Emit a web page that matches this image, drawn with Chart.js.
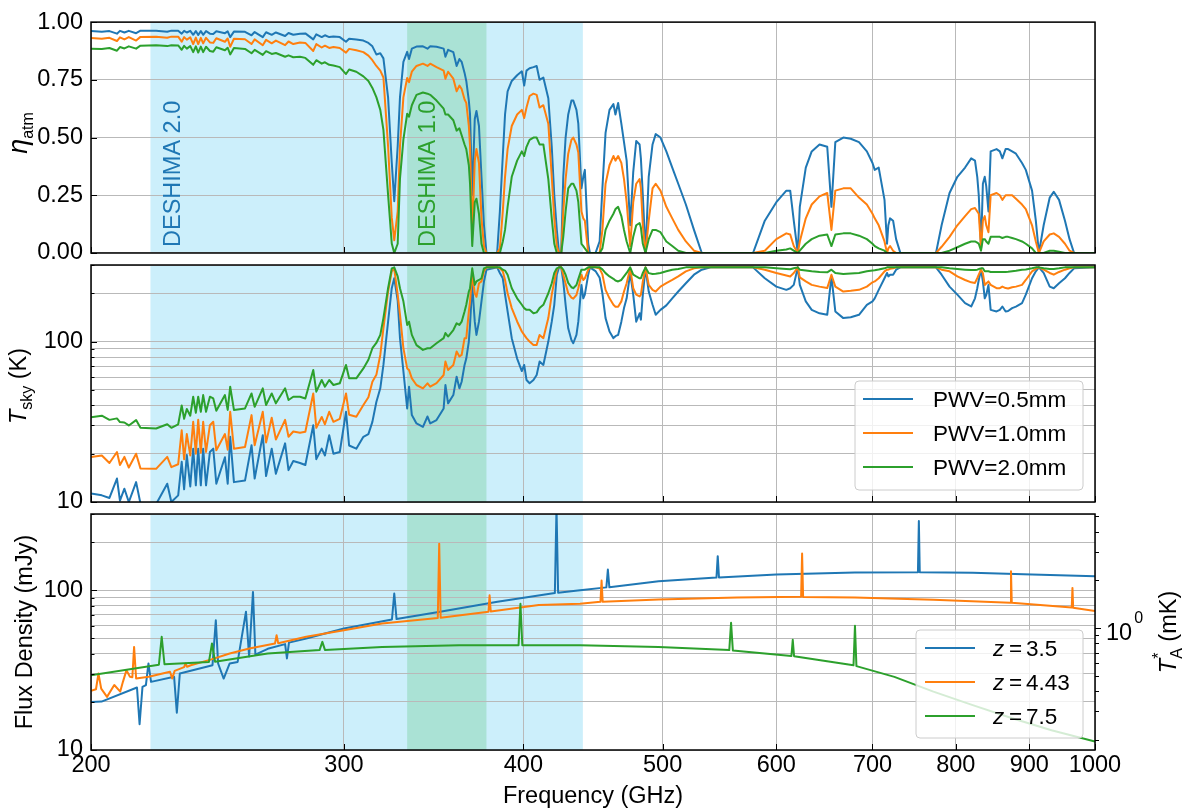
<!DOCTYPE html>
<html>
<head>
<meta charset="utf-8">
<title>DESHIMA atmosphere and line fluxes</title>
<script src="https://cdn.jsdelivr.net/npm/chart.js@4.4.1/dist/chart.umd.min.js"></script>
<style>
  html, body { margin: 0; padding: 0; background: #fff; }
  #wrap { position: relative; width: 1196px; height: 808px; }
  #wrap canvas { position: absolute; left: 0; top: 0; }
</style>
</head>
<body>
<div id="wrap">
  <canvas id="etaChart" width="1196" height="808"></canvas>
  <canvas id="tskyChart" width="1196" height="808"></canvas>
  <canvas id="fluxChart" width="1196" height="808"></canvas>
</div>
<script>
// ---- axis ticks and bands ----
const freqTicks = [200, 300, 400, 500, 600, 700, 800, 900, 1000];
const etaTicks = [0, 0.25, 0.5, 0.75, 1];
const logTicks = [10, 20, 30, 40, 50, 60, 70, 80, 90, 100, 200, 300];
const taTicks = [0.2, 0.3, 0.4, 0.5, 0.6, 0.7, 0.8, 0.9, 1, 2, 3, 4, 5];
const deshima2Band = [220, 440];
const deshima1Band = [332, 377];
const mJyPerMK = 58.1;

const pwvLabels = ['PWV=0.5mm', 'PWV=1.0mm', 'PWV=2.0mm'];
const redshiftLabels = ['3.5', '4.43', '7.5'];

// ---- atmosphere: frequency grid (GHz) shared by the top two panels ----
const atmFreq = [
  200, 203.5, 206, 208.5, 209.5, 211, 212.5, 215, 216.5, 222,
  226, 227.5, 230, 231.3, 232.2, 233.2, 234.5, 235.6, 236.6, 237.5,
  238.5, 239.4, 240.5, 242, 243.3, 244.5, 247.9, 249, 250, 251.5,
  256, 258.7, 260, 263.4, 264.8, 267.2, 269, 273, 274.5, 276.6,
  279.6, 282, 285.6, 287, 289.5, 291, 293, 295, 298, 301,
  302.5, 306, 309.5, 312, 314, 316, 318, 319.6, 322, 323.9,
  325.2, 327, 328.2, 330, 332, 333, 334.5, 337, 340.5, 343,
  344.5, 348, 352, 353, 354.5, 357.5, 359.4, 361, 362.3, 364,
  365, 366.5, 367.2, 368.5, 370, 371, 372.5, 374, 375.5, 377,
  383.5, 385.2, 387, 388.4, 390, 392.6, 396, 399, 400.5, 402,
  404, 406.5, 408.6, 410.5, 413, 416.3, 418.6, 420.3, 422, 423.5,
  425, 426.4, 428, 429.8, 432, 433.3, 435.5, 436.8, 439, 440.3,
  441.4, 443.8, 445, 449, 452, 454, 456.3, 459.2, 462.1, 463.6,
  465.6, 468, 470, 472, 474.7, 477, 479.3, 481.9, 482.9, 484.4,
  486.5, 489, 492, 494.5, 498.3, 503, 507.8, 512.7, 519, 525.8,
  532.4, 540, 578, 589, 600, 609.7, 613.5, 617, 621, 623,
  629, 635, 643, 651, 655.4, 659.5, 668, 676, 685, 693.7,
  700, 702.5, 707, 713.6, 716.5, 718, 720, 723.5, 727, 732,
  775, 782, 792, 802, 812, 820, 825, 828, 830, 833,
  835.5, 838, 840, 843, 846, 854, 858.5, 862, 866.5, 870,
  875.6, 881, 889.6, 895, 904, 909.5, 914, 921, 930, 936,
  944, 953, 960, 967, 1000
];

// atmospheric transmission
const etaPwv05 = [
  .962, .958, .961, .950, .962, .955, .962, .952, .963, .963,
  .958, .963, .963, .950, .962, .955, .962, .945, .961, .944,
  .961, .945, .961, .950, .948, .960, .952, .960, .935, .959,
  .958, .943, .957, .935, .956, .945, .955, .940, .953, .945,
  .950, .951, .925, .947, .935, .943, .935, .938, .935, .915,
  .928, .925, .920, .910, .895, .860, .865, .843, .674, .392,
  .224, .463, .674, .828, .871, .840, .885, .894, .895, .885,
  .895, .893, .885, .850, .880, .870, .810, .840, .828, .780,
  .745, .660, .600, .250, .580, .615, .550, .330, .120, 0,
  0, .180, .420, .600, .700, .745, .770, .787, .725, .790,
  .800, .805, .810, .750, .760, .670, .460, .250, .100, 0,
  0, .330, .500, .600, .660, .660, .620, .560, .280, .330,
  .360, .040, 0, 0, .050, .280, .520, .620, .645, .600,
  .650, .560, .480, .400, .120, .350, .485, .470, .410, .250,
  0, .330, .470, .515, .500, .440, .370, .300, .210, .100,
  0, 0, 0, .140, .220, .270, .270, .140, 0, .200,
  .370, .440, .470, .460, .200, .480, .500, .495, .480, .440,
  .390, .360, .370, .230, .040, .120, .150, .140, .060, 0,
  0, .120, .260, .330, .370, .410, .400, .330, .250, .020,
  .300, .330, .290, .180, .440, .450, .440, .410, .450, .450,
  .440, .430, .390, .360, .270, .140, 0, .120, .240, .265,
  .230, .140, .060, 0, 0
];
const etaPwv10 = [
  .931, .928, .932, .918, .934, .925, .935, .920, .936, .937,
  .932, .937, .937, .915, .935, .924, .934, .905, .933, .905,
  .932, .908, .932, .912, .910, .930, .915, .929, .893, .928,
  .926, .905, .925, .900, .923, .908, .920, .900, .916, .905,
  .912, .910, .875, .905, .890, .898, .888, .892, .888, .868,
  .884, .878, .870, .855, .835, .810, .790, .760, .463, .153,
  .055, .180, .463, .674, .758, .740, .785, .810, .820, .810,
  .820, .805, .790, .755, .785, .755, .700, .725, .710, .665,
  .650, .550, .463, .080, .400, .450, .390, .150, .030, 0,
  0, .020, .180, .330, .450, .550, .600, .620, .585, .630,
  .680, .690, .685, .630, .640, .560, .330, .150, .030, 0,
  0, .180, .320, .430, .490, .500, .470, .435, .180, .150,
  .140, 0, 0, 0, 0, .100, .300, .380, .420, .400,
  .420, .390, .320, .220, .030, .220, .300, .320, .280, .120,
  0, .140, .280, .300, .270, .200, .150, .100, .050, .010,
  0, 0, 0, .010, .060, .085, .080, .030, 0, .050,
  .150, .210, .245, .260, .100, .270, .280, .280, .240, .210,
  .170, .150, .120, .050, 0, .020, .030, .010, 0, 0,
  0, .027, .070, .120, .160, .190, .195, .180, .170, .020,
  .140, .160, .120, .090, .250, .260, .250, .230, .250, .250,
  .250, .235, .210, .190, .120, .050, 0, .050, .080, .085,
  .070, .040, .010, 0, 0
];
const etaPwv20 = [
  .885, .884, .888, .876, .892, .886, .895, .885, .898, .900,
  .896, .900, .899, .880, .897, .885, .896, .870, .895, .868,
  .894, .870, .893, .875, .872, .891, .878, .889, .860, .888,
  .884, .865, .880, .858, .874, .862, .866, .850, .856, .848,
  .850, .845, .815, .835, .820, .826, .815, .812, .805, .775,
  .795, .785, .765, .745, .715, .675, .620, .533, .252, .041,
  0, .040, .322, .491, .603, .590, .640, .685, .695, .690,
  .685, .660, .625, .600, .600, .575, .530, .540, .510, .470,
  .450, .380, .300, .030, .220, .235, .170, .040, 0, 0,
  0, 0, .050, .100, .200, .330, .400, .440, .420, .460,
  .490, .500, .500, .470, .470, .320, .150, .040, 0, 0,
  0, .070, .180, .280, .300, .300, .270, .220, .040, .030,
  .020, 0, 0, 0, 0, .020, .100, .140, .170, .190,
  .200, .160, .100, .050, 0, .070, .120, .130, .110, .040,
  0, .060, .100, .100, .090, .050, .030, .010, 0, 0,
  0, 0, 0, 0, .010, .015, .020, .010, 0, .010,
  .040, .060, .075, .080, .030, .080, .085, .085, .075, .060,
  .040, .030, .020, .010, 0, 0, 0, 0, 0, 0,
  0, 0, .010, .025, .040, .050, .050, .045, .040, .010,
  .060, .060, .050, .040, .070, .070, .070, .065, .070, .070,
  .065, .060, .050, .040, .020, 0, 0, 0, .010, .010,
  .005, 0, 0, 0, 0
];

// sky temperature (K)
const tskyPwv05 = [
  11.3, 11.0, 10.6, 14.0, 10.2, 12.1, 10.0, 13.3, 9.8, 9.7,
  13.0, 10.0, 11.0, 17.8, 12.0, 19.6, 12.5, 21.5, 12.7, 21.5,
  12.7, 21.5, 12.7, 20.5, 21.5, 13.0, 19.0, 13.0, 25.5, 13.3,
  13.6, 22.6, 14.0, 26.1, 14.5, 21.5, 15.0, 23.2, 15.8, 18.0,
  17.5, 17.0, 30.1, 18.5, 21.5, 19.5, 26.1, 20.0, 20.5, 36.5,
  22.5, 21.5, 25.5, 26.5, 31.6, 42.0, 51.1, 71.5, 133, 215,
  248, 180, 105, 65.5, 38.3, 52.3, 34.8, 30.9, 29.4, 34.1,
  30.9, 32.4, 38.3, 53.6, 41.2, 46.4, 60.4, 51.1, 56.2, 71.5,
  78.3, 100, 127, 226, 133, 110, 133, 178, 237, 280.5,
  290, 267.6, 248, 196, 154, 105, 78.3, 65.5, 71.5, 57.6,
  55.0, 57.6, 61.9, 75.0, 71.5, 100, 133, 169.5, 261, 290,
  290, 237, 169.5, 121, 102.4, 97.6, 110, 133, 225.5, 186,
  196, 261, 290, 275, 250, 200, 140, 115.5, 105, 108,
  110, 133, 161.6, 186, 267.6, 196, 133, 150, 136.7, 196,
  287, 205, 169.5, 146.8, 157.6, 168, 186, 205, 231, 261,
  280.5, 290, 290, 248, 220, 210, 215, 225.5, 290, 225.5,
  178, 157.6, 150, 146.8, 254.6, 154, 140, 141.6, 146.8, 169.5,
  178, 186, 210, 248, 267.6, 254.6, 261, 261, 280.5, 290,
  290, 261, 220, 196, 173.6, 165.4, 186, 215, 242, 280.5,
  237, 186, 195, 225, 157.6, 154, 157.6, 165.4, 154, 155,
  161.6, 165, 173.6, 196, 248, 274, 290, 267.6, 220, 215,
  231, 248, 267.6, 286, 290
];
const tskyPwv10 = [
  19.1, 19.5, 17.5, 20.5, 17.0, 19.1, 16.4, 20.0, 16.2, 16.1,
  19.1, 16.5, 17.2, 28.0, 18.5, 26.5, 19.5, 31.6, 20.0, 32.5,
  20.3, 31.6, 20.5, 30.1, 31.6, 21.0, 26.5, 21.2, 36.5, 21.5,
  22.0, 34.8, 22.6, 36.5, 23.5, 33.5, 24.5, 32.5, 25.5, 27.5,
  27.0, 27.4, 47.5, 29.0, 33.9, 30.5, 36.5, 31.6, 33.0, 47.5,
  35.0, 34.0, 40.2, 45.0, 56.2, 62.0, 82.5, 121, 205, 274,
  284, 196, 147, 91, 68, 66.5, 59, 53.6, 51.1, 54.9,
  52.3, 55.0, 61.9, 75.0, 66.5, 71.5, 86.6, 80.8, 82.5, 105,
  105, 154, 178, 261, 200, 190, 231, 237, 274, 290,
  290, 286, 274, 242, 200, 161.6, 133.4, 115.5, 110, 105,
  100, 95.3, 95.3, 110, 105, 140, 196, 237, 280.5, 290,
  290, 261, 230, 200, 188, 185, 195, 215, 261, 242,
  248, 280.5, 290, 290, 285, 262, 210, 186, 169.5, 165,
  165, 178, 205, 231, 286, 215, 196, 191, 196, 237,
  290, 225.5, 210, 205, 220, 231, 242, 254.6, 274, 286,
  290, 290, 290, 280.5, 267.6, 258, 254.6, 267.6, 290, 251,
  237, 225.5, 220, 215.4, 261, 220, 205, 207, 210, 220,
  234, 237, 248, 274, 280.5, 280.5, 284, 286, 290, 290,
  290, 280.5, 274, 254.6, 242, 234, 232, 248, 261, 280.5,
  267, 225.5, 230, 237, 225.5, 215, 215, 220, 215.4, 214,
  218, 220, 225.5, 242, 274, 284, 290, 280.5, 267.6, 261,
  271.5, 280.5, 286, 290, 290
];
const tskyPwv20 = [
  33.7, 34.5, 32.5, 33.2, 31.5, 31.3, 30.0, 32.4, 29.0, 28.7,
  30.5, 29.0, 30.5, 40.0, 33.0, 38.0, 34.5, 45.3, 36.0, 45.3,
  36.5, 46.4, 36.5, 45.3, 44.2, 37.0, 46.4, 37.5, 52.3, 37.5,
  38.3, 47.5, 39.2, 51.1, 40.2, 47.5, 41.2, 51.1, 43.2, 45.3,
  45.3, 44.2, 66.5, 48.7, 57.6, 52.3, 57.6, 53.6, 54.9, 71.5,
  59.0, 59.0, 68.0, 77.0, 90.9, 98.0, 110, 140, 215, 286,
  290, 255, 215, 178, 127, 133, 110, 95, 88.7, 90.9,
  90.9, 97.6, 105, 113, 107.5, 118, 130, 127, 133, 154,
  169.5, 205, 215, 286, 225.5, 237, 242, 248, 286, 290,
  290, 290, 280.5, 277, 261, 215, 186, 169.5, 161.6, 157.6,
  157.6, 150, 152, 161.6, 169.5, 200, 231, 267.6, 286, 290,
  290, 280.5, 261, 232, 218, 215, 225, 245, 280.5, 280.5,
  280.5, 290, 290, 290, 290, 282, 267, 254.6, 246, 240,
  237, 242, 254.6, 267.6, 290, 261, 254.6, 248, 248, 267.6,
  290, 267, 263.7, 265, 267.6, 274, 280.5, 283, 290, 290,
  290, 290, 290, 290, 286, 283, 282, 286, 290, 280.5,
  277, 274, 271.5, 270, 280.5, 267.6, 263.7, 266, 267.6, 274,
  277, 278, 281, 286, 290, 290, 290, 290, 290, 290,
  290, 290, 286, 283, 280.5, 279, 279, 280.5, 283, 286,
  286, 274, 274, 274, 271.5, 271.5, 271.5, 271.5, 271.5, 272,
  274, 276, 280.5, 281.5, 286, 290, 290, 286, 283, 283,
  286, 290, 290, 290, 290
];

// ---- source spectra: flux density (mJy) ----
const fluxFreqZ35 = [
  200, 203.4, 215.3, 216.2, 217.2, 218.4, 219.3, 220.2, 228.5, 229.5,
  230.6, 243, 244.3, 245.2, 247.4, 249.8, 253, 256.4, 257.7, 259.3,
  260.3, 265.5, 273, 273.8, 274.7, 282.4, 300, 324, 325.2, 326.4,
  350, 383.7, 420.7, 421.8, 422.9, 438, 456.9, 458, 459.1, 496.8,
  545.1, 546.2, 547.3, 600, 680.6, 752.9, 754, 755.1, 822, 904,
  1000
];
const fluxZ35 = [
  20.0, 20.1, 24.6, 14.5, 24.8, 25.5, 34.8, 26.7, 28.7, 17.1,
  30.1, 33.9, 64.9, 34.8, 28.0, 34.8, 35.6, 73.4, 38.5, 97.6,
  39.5, 43.0, 46.0, 37.4, 47.0, 49.9, 57.6, 65.6, 95.3, 66.0,
  73.4, 84.6, 96.2, 330, 96.5, 100, 104.2, 134.7, 104.3, 113.8,
  120, 163.4, 120.1, 125.6, 129.1, 129.5, 271, 129.5, 128.5, 125.6,
  122.3
];
const fluxFreqZ443 = [
  200, 201.6, 202.4, 203.3, 205.2, 207.6, 209.6, 210.5, 211.7, 212.9,
  213.7, 214.3, 215.0, 219.4, 227.0, 227.8, 228.7, 232.2, 232.7, 233.3,
  234.7, 242.3, 249.8, 257.8, 268.6, 269.3, 270.0, 282.4, 300, 318.9,
  348.7, 349.5, 350.3, 378.2, 378.9, 379.6, 410, 438, 452.6, 453.4,
  454.2, 496.8, 563.5, 624.3, 625.3, 626.3, 680.6, 771.8, 872.9, 874,
  875.1, 963.4, 964.5, 965.6, 1000
];
const fluxZ443 = [
  23.5, 24.0, 30.1, 24.2, 21.5, 25.5, 23.2, 26.7, 31.6, 28.7,
  28.5, 44.2, 28.0, 28.7, 30.9, 28.0, 31.3, 33.0, 34.8, 33.2,
  33.9, 36.8, 40.2, 43.2, 46.4, 52.3, 46.6, 51.1, 56.2, 61.9,
  67.0, 195.7, 67.2, 73.4, 93.0, 73.6, 80.8, 82.3, 84.6, 115,
  84.8, 87.6, 90.1, 90.9, 169.5, 90.8, 90.1, 87.3, 83.6, 131.4,
  83.5, 78.0, 103.4, 77.8, 74.0
];
const fluxFreqZ75 = [
  200, 223, 224, 225, 241.6, 242.8, 244, 265.5, 288.5, 289.8,
  291, 318.9, 360.8, 396.9, 398.1, 399.3, 438, 496.8, 556.4, 558,
  559.6, 614.7, 616, 617.3, 679, 680.6, 682.2, 725, 771.8, 822,
  875.6, 932.6, 1000
];
const fluxZ75 = [
  29.4, 34.2, 51.1, 34.4, 35.5, 46.4, 35.7, 40.2, 42.2, 47.5,
  42.3, 44.2, 45.3, 45.3, 82.3, 45.3, 45.3, 44.2, 42.2, 62.5,
  42.0, 38.8, 49.0, 38.6, 33.9, 59.9, 33.5, 28.7, 23.2, 19.1,
  15.8, 13.3, 11.3
];

// ---- styling ----
const FONT = "'Liberation Sans', Arial, Helvetica, sans-serif";
const TICK_SIZE = 23.5;
const BLUE = '#1f77b4', ORANGE = '#ff7f0e', GREEN = '#2ca02c';
const GRID = '#b9b9b9';
const BAND2_COLOR = 'rgb(204, 239, 251)';
const BAND1_COLOR = 'rgb(170, 226, 213)';
const PAGE_W = 1196, PAGE_H = 808;
const PLOT_LEFT = 91, PLOT_RIGHT = 1095;
const X_LABEL_SPACE = 50;

function points(xs, ys) {
    return xs.map((x, i) => ({ x: x, y: ys[i] }));
}

function lineSet(label, xs, ys, color, order) {
    return {
        label: label,
        data: points(xs, ys),
        borderColor: color,
        backgroundColor: color,
        borderWidth: 2,
        borderJoinStyle: 'round',
        pointRadius: 0,
        tension: 0,
        fill: false,
        order: order,
        xAxisID: 'x',
        yAxisID: 'y'
    };
}

function tickFont() {
    return { family: FONT, size: TICK_SIZE };
}

function xAxis(showLabels) {
    return {
        type: 'logarithmic',
        position: 'bottom',
        min: 200,
        max: 1000,
        afterBuildTicks: s => { s.ticks = freqTicks.map(v => ({ value: v })); },
        afterFit: s => { s.height = showLabels ? X_LABEL_SPACE : 0; },
        border: { display: false },
        grid: { color: GRID, lineWidth: 1, drawTicks: false },
        ticks: {
            display: showLabels, autoSkip: false, maxRotation: 0, minRotation: 0,
            padding: 1, color: '#000', font: tickFont(),
            callback: v => String(v)
        }
    };
}

function leftAxis(type, min, max, tickList, labelFn) {
    return {
        type: type,
        position: 'left',
        min: min,
        max: max,
        afterBuildTicks: s => { s.ticks = tickList.map(v => ({ value: v })); },
        afterFit: s => { s.width = PLOT_LEFT; },
        border: { display: false },
        grid: { color: GRID, lineWidth: 1, drawTicks: false },
        ticks: { padding: 8, color: '#000', font: tickFont(), autoSkip: false, callback: labelFn }
    };
}

const decadeLabel = v => (v === 10 || v === 100) ? String(v) : '';

// ---- drawing helpers ----
function drawBands(chart) {
    const ctx = chart.ctx, a = chart.chartArea, x = chart.scales.x;
    ctx.save();
    [[deshima2Band, BAND2_COLOR], [deshima1Band, BAND1_COLOR]].forEach(([band, color]) => {
        const x0 = x.getPixelForValue(band[0]);
        const x1 = x.getPixelForValue(band[1]);
        ctx.fillStyle = color;
        ctx.fillRect(x0, a.top, x1 - x0, a.bottom - a.top);
    });
    ctx.restore();
}

function drawFrame(chart) {
    const ctx = chart.ctx, a = chart.chartArea;
    ctx.save();
    ctx.strokeStyle = '#000';
    ctx.lineWidth = 1.5;
    ctx.strokeRect(a.left, a.top, a.right - a.left, a.bottom - a.top);
    ctx.restore();
}

function drawInwardTicks(chart) {
    const ctx = chart.ctx, a = chart.chartArea;
    const y = chart.scales.y, x = chart.scales.x;
    ctx.save();
    ctx.strokeStyle = '#000';
    ctx.lineWidth = 1;
    ctx.beginPath();
    y.ticks.forEach(t => {
        const py = Math.round(y.getPixelForValue(t.value)) + 0.5;
        const len = t.label === '' ? 3.5 : 6;
        ctx.moveTo(a.left, py);
        ctx.lineTo(a.left + len, py);
    });
    x.ticks.forEach(t => {
        const px = Math.round(x.getPixelForValue(t.value)) + 0.5;
        ctx.moveTo(px, a.bottom);
        ctx.lineTo(px, a.bottom - 6);
    });
    ctx.stroke();
    ctx.restore();
}

function fontOf(p) {
    return (p.italic ? 'italic ' : '') + p.size + 'px ' + FONT;
}

// text made of parts (italic letters, sub/superscripts), centred on (cx, cy)
function drawRich(ctx, cx, cy, parts, rotated) {
    ctx.save();
    ctx.translate(cx, cy);
    if (rotated) ctx.rotate(-Math.PI / 2);
    let total = 0, prevStart = 0;
    const placed = parts.map(p => {
        ctx.font = fontOf(p);
        const w = ctx.measureText(p.text).width;
        let x;
        if (p.stack) {
            x = prevStart;
            total = Math.max(total, x + w);
        } else {
            x = total;
            prevStart = x;
            total += w;
        }
        return { p: p, x: x };
    });
    ctx.fillStyle = '#000';
    ctx.textAlign = 'left';
    ctx.textBaseline = 'alphabetic';
    const base = parts[0].size * 0.358;
    placed.forEach(item => {
        ctx.font = fontOf(item.p);
        ctx.fillText(item.p.text, item.x - total / 2, base + (item.p.dy || 0));
    });
    ctx.restore();
}

function drawLegendBox(ctx, x, y, w, h) {
    ctx.save();
    ctx.beginPath();
    if (ctx.roundRect) ctx.roundRect(x, y, w, h, 4); else ctx.rect(x, y, w, h);
    ctx.fillStyle = 'rgba(255,255,255,0.8)';
    ctx.fill();
    ctx.strokeStyle = '#cccccc';
    ctx.lineWidth = 1;
    ctx.stroke();
    ctx.restore();
}

function drawLegendLine(ctx, x0, x1, y, color) {
    ctx.save();
    ctx.strokeStyle = color;
    ctx.lineWidth = 2;
    ctx.beginPath();
    ctx.moveTo(x0, y);
    ctx.lineTo(x1, y);
    ctx.stroke();
    ctx.restore();
}

function buildChart(canvasId, area, withRightAxis, scales, datasets, decorate) {
    const xSpace = area.xLabels ? X_LABEL_SPACE : 0;
    return new Chart(document.getElementById(canvasId), {
        type: 'line',
        data: { datasets: datasets },
        options: {
            responsive: false,
            animation: false,
            events: [],
            devicePixelRatio: 1,
            layout: {
                padding: {
                    left: 0,
                    right: withRightAxis ? 0 : PAGE_W - PLOT_RIGHT,
                    top: area.top,
                    bottom: PAGE_H - area.bottom - xSpace
                }
            },
            plugins: { legend: { display: false }, tooltip: { enabled: false } },
            scales: scales
        },
        plugins: [{
            id: canvasId + 'Deco',
            beforeDraw: drawBands,
            afterDraw: chart => {
                drawFrame(chart);
                drawInwardTicks(chart);
                decorate(chart);
            }
        }]
    });
}

// ---- panel 1: transmission ----
buildChart('etaChart', { top: 16, bottom: 253, xLabels: false }, false, {
    x: xAxis(false),
    y: leftAxis('linear', 0, 1, etaTicks, v => v.toFixed(2))
}, [
    lineSet(pwvLabels[0], atmFreq, etaPwv05, BLUE, 3),
    lineSet(pwvLabels[1], atmFreq, etaPwv10, ORANGE, 2),
    lineSet(pwvLabels[2], atmFreq, etaPwv20, GREEN, 1)
], chart => {
    const ctx = chart.ctx;
    drawRich(ctx, 17, 133, [
        { text: 'η', size: 27, italic: true },
        { text: 'atm', size: 16, dy: 6 }
    ], true);
    [['DESHIMA 2.0', BLUE, 180], ['DESHIMA 1.0', GREEN, 435]].forEach(([text, color, bx]) => {
        ctx.save();
        ctx.translate(bx, 247);
        ctx.rotate(-Math.PI / 2);
        ctx.font = '23.5px ' + FONT;
        ctx.fillStyle = color;
        ctx.textBaseline = 'alphabetic';
        ctx.fillText(text, 0, 0);
        ctx.restore();
    });
});

// ---- panel 2: sky temperature ----
buildChart('tskyChart', { top: 265, bottom: 502, xLabels: false }, false, {
    x: xAxis(false),
    y: leftAxis('logarithmic', 10, 300, logTicks, decadeLabel)
}, [
    lineSet(pwvLabels[0], atmFreq, tskyPwv05, BLUE, 3),
    lineSet(pwvLabels[1], atmFreq, tskyPwv10, ORANGE, 2),
    lineSet(pwvLabels[2], atmFreq, tskyPwv20, GREEN, 1)
], chart => {
    const ctx = chart.ctx;
    drawRich(ctx, 18, 386, [
        { text: 'T', size: TICK_SIZE, italic: true },
        { text: 'sky', size: 16, dy: 6 },
        { text: ' (K)', size: TICK_SIZE }
    ], true);
    drawLegendBox(ctx, 855, 381, 228, 109);
    const rows = [399, 433, 467];
    chart.data.datasets.forEach((ds, i) => {
        drawLegendLine(ctx, 863, 913, rows[i], ds.borderColor);
        ctx.save();
        ctx.font = '22.5px ' + FONT;
        ctx.fillStyle = '#000';
        ctx.textBaseline = 'alphabetic';
        ctx.fillText(ds.label, 933, rows[i] + 8);
        ctx.restore();
    });
});

// ---- panel 3: flux density ----
buildChart('fluxChart', { top: 514, bottom: 750, xLabels: true }, true, {
    x: xAxis(true),
    y: leftAxis('logarithmic', 10, 300, logTicks, decadeLabel),
    ta: {
        type: 'logarithmic',
        position: 'right',
        min: 10 / mJyPerMK,
        max: 300 / mJyPerMK,
        afterBuildTicks: s => { s.ticks = taTicks.map(v => ({ value: v })); },
        afterFit: s => { s.width = PAGE_W - PLOT_RIGHT; },
        border: { display: false },
        grid: { display: false },
        ticks: { display: false }
    }
}, [
    lineSet('z = ' + redshiftLabels[0], fluxFreqZ35, fluxZ35, BLUE, 3),
    lineSet('z = ' + redshiftLabels[1], fluxFreqZ443, fluxZ443, ORANGE, 2),
    lineSet('z = ' + redshiftLabels[2], fluxFreqZ75, fluxZ75, GREEN, 1)
], chart => {
    const ctx = chart.ctx, a = chart.chartArea, ta = chart.scales.ta;

    // right axis: ticks outward, single decade label
    ctx.save();
    ctx.strokeStyle = '#000';
    ctx.lineWidth = 1;
    ctx.beginPath();
    taTicks.forEach(v => {
        const py = Math.round(ta.getPixelForValue(v)) + 0.5;
        ctx.moveTo(a.right, py);
        ctx.lineTo(a.right + (v === 1 ? 6 : 4), py);
    });
    ctx.stroke();
    const oneY = ta.getPixelForValue(1);
    ctx.fillStyle = '#000';
    ctx.textBaseline = 'alphabetic';
    ctx.font = TICK_SIZE + 'px ' + FONT;
    ctx.fillText('10', 1106, oneY + 12);
    const w10 = ctx.measureText('10').width;
    ctx.font = '16px ' + FONT;
    ctx.fillText('0', 1106 + w10 + 2, oneY - 5);
    ctx.restore();

    drawRich(ctx, 24, 632, [{ text: 'Flux Density (mJy)', size: TICK_SIZE }], true);
    drawRich(ctx, 1168, 632, [
        { text: 'T', size: TICK_SIZE, italic: true },
        { text: 'A', size: 16, dy: 6 },
        { text: '*', size: 16, dy: -12, stack: true },
        { text: ' (mK)', size: TICK_SIZE }
    ], true);
    drawRich(ctx, 593, 795, [{ text: 'Frequency (GHz)', size: TICK_SIZE }], false);

    // legend
    drawLegendBox(ctx, 916, 630, 167, 108);
    const rows = [648, 682, 716];
    chart.data.datasets.forEach((ds, i) => {
        drawLegendLine(ctx, 925, 975, rows[i], ds.borderColor);
        ctx.save();
        ctx.fillStyle = '#000';
        ctx.textBaseline = 'alphabetic';
        ctx.font = 'italic 22.5px ' + FONT;
        ctx.fillText('z', 993, rows[i] + 8);
        ctx.font = '22.5px ' + FONT;
        ctx.fillText('=', 1009, rows[i] + 8);
        ctx.fillText(redshiftLabels[i], 1026, rows[i] + 8);
        ctx.restore();
    });
});
</script>
</body>
</html>
